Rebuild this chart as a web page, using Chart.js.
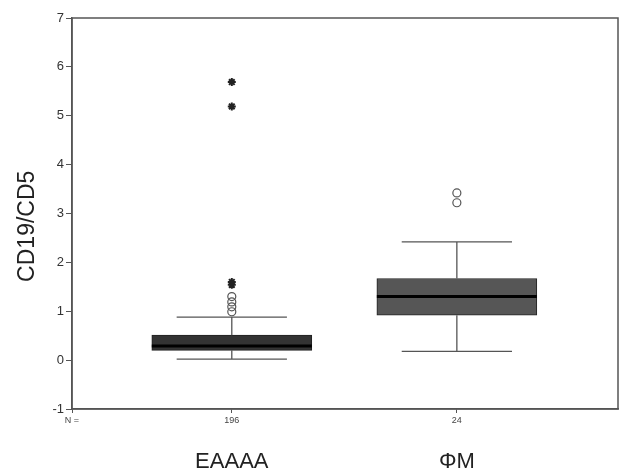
<!DOCTYPE html>
<html>
<head>
<meta charset="utf-8">
<script src="https://cdn.jsdelivr.net/npm/chart.js@4.4.1/dist/chart.umd.min.js"></script>
<style>
  html, body { margin: 0; padding: 0; background: #fff; }
  #wrap { width: 620px; height: 471px; position: relative; }
</style>
</head>
<body>
<div id="wrap"><canvas id="box"></canvas></div>
<script>
// Groups and their sample sizes
const categories = ['EAAAA', 'ΦΜ'];
const sampleSizes = [196, 24];

// Box statistics per group
const q1 = [0.20, 0.92];
const q3 = [0.51, 1.67];
const medians = [0.29, 1.30];
const whiskerLow = [0.02, 0.18];
const whiskerHigh = [0.88, 2.42];

// Outliers (circles) and extremes (stars)
const outliers = [[0.99, 1.09, 1.19, 1.30], [3.22, 3.42]];
const extremes = [[1.54, 1.60, 5.19, 5.69], []];

// Y axis ticks
const yTicks = [-1, 0, 1, 2, 3, 4, 5, 6, 7];

const boxColors = ['#333333', '#565656'];

// Whiskers, caps, medians and the frame round the plot
const boxPlotExtras = {
  id: 'boxPlotExtras',
  afterDatasetsDraw(chart) {
    const { ctx, scales } = chart;
    const xs = scales.x, ys = scales.y;
    const unit = xs.getPixelForValue(2) - xs.getPixelForValue(1);
    const capHalf = unit * 0.245;
    const bars = chart.getDatasetMeta(0).data;
    ctx.save();
    categories.forEach((c, i) => {
      const x = xs.getPixelForValue(i + 1);
      ctx.strokeStyle = '#555';
      ctx.lineWidth = 1.3;
      ctx.beginPath();
      ctx.moveTo(x, ys.getPixelForValue(q3[i]));
      ctx.lineTo(x, ys.getPixelForValue(whiskerHigh[i]));
      ctx.moveTo(x, ys.getPixelForValue(q1[i]));
      ctx.lineTo(x, ys.getPixelForValue(whiskerLow[i]));
      ctx.moveTo(x - capHalf, ys.getPixelForValue(whiskerHigh[i]));
      ctx.lineTo(x + capHalf, ys.getPixelForValue(whiskerHigh[i]));
      ctx.moveTo(x - capHalf, ys.getPixelForValue(whiskerLow[i]));
      ctx.lineTo(x + capHalf, ys.getPixelForValue(whiskerLow[i]));
      ctx.stroke();

      // median
      const bar = bars[i];
      const ym = ys.getPixelForValue(medians[i]);
      ctx.strokeStyle = '#000';
      ctx.lineWidth = 3;
      ctx.beginPath();
      ctx.moveTo(bar.x - bar.width / 2, ym);
      ctx.lineTo(bar.x + bar.width / 2, ym);
      ctx.stroke();
    });
    const a = chart.chartArea;
    ctx.strokeStyle = '#555';
    ctx.lineWidth = 1.5;
    ctx.strokeRect(a.left, a.top, a.right - a.left, a.bottom - a.top);
    ctx.restore();
  }
};

const xMin = 0.29, xMax = 2.716;

// keep the horizontal axes from reserving side padding
const fitX = (h) => (scale) => {
  scale.height = h;
  scale.paddingLeft = 0;
  scale.paddingRight = 0;
};

new Chart(document.getElementById('box'), {
  type: 'bar',
  data: {
    datasets: [
      {
        type: 'bar',
        data: categories.map((c, i) => ({ x: i + 1, y: [q1[i], q3[i]] })),
        backgroundColor: boxColors,
        borderColor: '#222',
        borderWidth: 1,
        borderSkipped: false,
        barThickness: 160
      },
      {
        type: 'scatter',
        data: outliers.flatMap((vals, i) => vals.map(v => ({ x: i + 1, y: v }))),
        pointStyle: 'circle',
        radius: 4,
        borderWidth: 1.2,
        borderColor: '#555',
        backgroundColor: 'rgba(255,255,255,0)'
      },
      {
        type: 'scatter',
        data: extremes.flatMap((vals, i) => vals.map(v => ({ x: i + 1, y: v }))),
        pointStyle: 'star',
        radius: 4,
        borderWidth: 2,
        borderColor: '#222',
        backgroundColor: '#222'
      }
    ]
  },
  options: {
    responsive: true,
    maintainAspectRatio: false,
    animation: false,
    layout: { autoPadding: false, padding: { top: 18, right: 2, left: 0, bottom: 0 } },
    plugins: {
      legend: { display: false },
      tooltip: { enabled: false }
    },
    scales: {
      y: {
        type: 'linear',
        min: -1,
        max: 7,
        afterBuildTicks: (scale) => { scale.ticks = yTicks.map(v => ({ value: v })); },
        afterFit: (scale) => { scale.width = 72; },
        ticks: {
          color: '#333',
          padding: 2,
          font: { family: 'Liberation Sans', size: 13 }
        },
        grid: { drawOnChartArea: false, tickLength: 6, color: '#555' },
        border: { color: '#555', width: 1.5 },
        title: {
          display: true,
          text: 'CD19/CD5    ',
          color: '#222',
          padding: { top: 14, bottom: 0 },
          font: { family: 'Liberation Sans', size: 23 }
        }
      },
      x: {
        type: 'linear',
        position: 'bottom',
        weight: 0,
        min: xMin,
        max: xMax,
        offset: false,
        afterBuildTicks: (scale) => {
          scale.ticks = [{ value: xMin }].concat(categories.map((c, i) => ({ value: i + 1 })));
        },
        afterFit: fitX(24),
        ticks: {
          color: '#444',
          padding: 2,
          maxRotation: 0,
          autoSkip: false,
          font: { family: 'Liberation Sans', size: 9 },
          callback: (v) => v === xMin ? 'N =' : String(sampleSizes[Math.round(v) - 1])
        },
        grid: { drawOnChartArea: false, offset: false, tickLength: 4, color: '#555' },
        border: { color: '#555', width: 1.5 }
      },
      xName: {
        type: 'linear',
        position: 'bottom',
        weight: 1,
        min: xMin,
        max: xMax,
        offset: false,
        afterBuildTicks: (scale) => {
          scale.ticks = categories.map((c, i) => ({ value: i + 1 }));
        },
        afterFit: fitX(38),
        ticks: {
          color: '#222',
          padding: 16,
          maxRotation: 0,
          autoSkip: false,
          font: { family: 'Liberation Sans', size: 22 },
          callback: (v) => categories[Math.round(v) - 1]
        },
        grid: { display: false, offset: false, drawTicks: false },
        border: { display: false }
      }
    }
  },
  plugins: [boxPlotExtras]
});
</script>
</body>
</html>
